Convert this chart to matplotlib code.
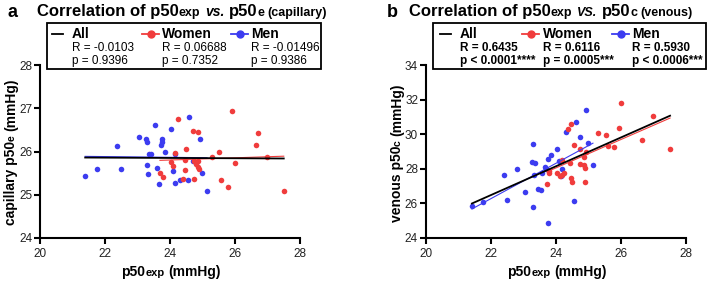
import numpy as np
import matplotlib
matplotlib.use('Agg')
import matplotlib.pyplot as plt
from matplotlib import transforms
from matplotlib.lines import Line2D
from matplotlib.patches import Rectangle

plt.rcParams['font.family'] = ['Liberation Sans', 'DejaVu Sans']

RED = '#f03c3c'
BLUE = '#3c3cf0'

# --- panel a: p50exp vs capillary p50e ---
a_men_x = [21.39, 21.74, 22.38, 22.48, 23.06, 23.26, 23.30, 23.28, 23.32, 23.34,
           23.42, 23.55, 23.59, 23.65, 23.71, 23.75, 23.75, 23.84, 24.03, 24.08,
           24.16, 24.16, 24.31, 24.55, 24.57, 24.71, 24.93, 24.97, 25.14]
a_men_y = [25.43, 25.59, 26.13, 25.60, 26.34, 26.28, 26.22, 25.69, 25.48, 25.94,
           25.94, 26.61, 25.63, 25.26, 26.14, 26.28, 26.22, 26.00, 26.51, 25.54,
           25.28, 25.95, 25.33, 25.34, 26.80, 25.78, 26.28, 25.51, 25.08]
a_women_x = [23.69, 23.77, 24.02, 24.08, 24.16, 24.24, 24.39, 24.45, 24.45, 24.49,
             24.71, 24.85, 24.73, 24.87, 24.80, 24.85, 24.90, 24.75, 25.28, 25.51,
             25.57, 25.77, 25.92, 25.99, 26.64, 26.72, 26.98, 27.50]
a_women_y = [25.50, 25.40, 25.76, 25.66, 25.96, 26.76, 25.37, 25.81, 25.57, 26.05,
             26.47, 26.45, 25.79, 25.77, 25.70, 25.65, 25.60, 25.37, 25.87, 25.99,
             25.34, 25.19, 26.94, 25.73, 26.16, 26.42, 25.88, 25.09]
a_stats = [("All", "R = -0.0103", "p = 0.9396"),
           ("Women", "R = 0.06688", "p = 0.7352"),
           ("Men", "R = -0.01496", "p = 0.9386")]

# --- panel b: p50exp vs venous p50c ---
b_men_x = [21.42, 21.77, 22.41, 22.51, 22.80, 23.06, 23.27, 23.29, 23.31, 23.35,
           23.33, 23.45, 23.54, 23.57, 23.66, 23.71, 23.77, 23.77, 23.85, 24.03,
           24.09, 24.16, 24.18, 24.32, 24.57, 24.63, 24.73, 24.93, 25.00, 25.14]
b_men_y = [25.87, 26.06, 27.63, 26.18, 27.98, 26.64, 28.40, 25.80, 29.43, 28.32,
           27.67, 26.83, 26.79, 27.75, 28.13, 28.01, 28.59, 24.88, 28.82, 29.13,
           28.44, 27.56, 28.00, 30.12, 26.14, 30.69, 29.85, 31.42, 29.47, 28.24]
b_women_x = [23.73, 23.79, 23.79, 24.03, 24.12, 24.18, 24.18, 24.26, 24.38, 24.44,
             24.46, 24.48, 24.50, 24.57, 24.73, 24.75, 24.85, 24.87, 24.89, 24.89,
             24.92, 25.30, 25.53, 25.59, 25.79, 25.93, 26.01, 26.65, 26.99, 27.51]
b_women_y = [27.10, 27.86, 27.78, 27.75, 27.60, 27.67, 28.51, 27.75, 30.31, 28.36,
             27.48, 30.58, 27.25, 29.39, 29.13, 28.28, 28.70, 28.24, 28.05, 27.21,
             28.97, 30.08, 29.93, 29.32, 29.28, 30.35, 31.80, 29.66, 31.03, 29.16]
b_stats = [("All", "R = 0.6435", "p < 0.0001****"),
           ("Women", "R = 0.6116", "p = 0.0005***"),
           ("Men", "R = 0.5930", "p < 0.0006***")]

W, H = 708, 281
fig = plt.figure(figsize=(W / 100, H / 100), dpi=100)
# pixel coords, origin top-left
PX = transforms.Affine2D().scale(1 / W, -1 / H).translate(0, 1) + fig.transFigure


def fit_line(ax, x, y, color, lw):
    k, b = np.polyfit(x, y, 1)
    xs = np.array([min(x), max(x)])
    ax.plot(xs, k * xs + b, color=color, lw=lw, zorder=3)


def make_axes(left, right, yticks):
    ax = fig.add_axes([left / W, 1 - 238 / H, (right - left) / W, 173 / H])
    ax.set_xlim(20, 28)
    ax.set_ylim(yticks[0], yticks[-1])
    ax.set_xticks([20, 22, 24, 26, 28])
    ax.set_yticks(yticks)
    for s in ['top', 'right']:
        ax.spines[s].set_visible(False)
    for s in ['left', 'bottom']:
        ax.spines[s].set_linewidth(1.5)
    ax.tick_params(length=4, width=1.5, labelsize=8.5, colors='black', labelcolor='#222222')
    ax.tick_params(axis='y', pad=1.5)
    ax.tick_params(axis='x', pad=3)
    ax.patch.set_alpha(0)
    return ax


def panel(ax, mx, my, wx, wy):
    ax.scatter(mx, my, s=16, color=BLUE, lw=0, zorder=2)
    ax.scatter(wx, wy, s=16, color=RED, lw=0, zorder=2)
    fit_line(ax, mx, my, BLUE, 0.8)
    fit_line(ax, wx, wy, RED, 0.8)
    fit_line(ax, mx + wx, my + wy, 'black', 1.3)


def rich(x, y, parts, ha='left', rot=0):
    # parts: (text, size, style); (' ', size) is a space of that size
    r = fig.canvas.get_renderer()
    items = []
    for part in parts:
        if part[0] == ' ':
            items.append((None, 0.278 * part[1] * 100 / 72))
            continue
        s, size, style = part
        t = fig.text(0, 0, s, fontsize=size, fontweight='bold', fontstyle=style,
                     transform=PX, ha='left', va='baseline', rotation=rot,
                     rotation_mode='anchor')
        bb = t.get_window_extent(r)
        items.append((t, bb.height if rot else bb.width))
    total = sum(w for _, w in items)
    start = x - total / 2 if ha == 'center' else x
    if rot:
        start = y + total / 2
    pos = start
    for t, w in items:
        if t is not None:
            t.set_position((x, pos) if rot else (pos, y))
        pos = pos - w if rot else pos + w


def legend_box(x0, x1, xs, stats, stat_weight):
    fig.add_artist(Rectangle((x0, 23), x1 - x0, 46, transform=PX, fill=False,
                             lw=1.3, ec='black'))
    hx, tx = xs[0]
    fig.add_artist(Line2D([hx, hx + 11], [34, 34], transform=PX, color='black', lw=1.3))
    for (hx, tx), col in zip(xs[1:], [RED, BLUE]):
        fig.add_artist(Line2D([hx, hx + 8.5, hx + 17], [34, 34, 34], transform=PX,
                              color=col, lw=1.3, marker='o', ms=5, markevery=[1]))
    for (hx, tx), (name, rs, ps) in zip(xs, stats):
        fig.text(tx, 34, name, transform=PX, fontsize=10, fontweight='bold', va='center')
        fig.text(tx, 48, rs, transform=PX, fontsize=8.5, fontweight=stat_weight, va='center')
        fig.text(tx, 61, ps, transform=PX, fontsize=8.5, fontweight=stat_weight, va='center')


ax_a = make_axes(40, 300, [24, 25, 26, 27, 28])
panel(ax_a, a_men_x, a_men_y, a_women_x, a_women_y)
ax_b = make_axes(425.7, 686, [24, 26, 28, 30, 32, 34])
panel(ax_b, b_men_x, b_men_y, b_women_x, b_women_y)

legend_box(47, 321, [(52, 72), (142, 162), (231, 251)], a_stats, 'normal')
legend_box(433, 706, [(440, 460), (522, 543), (612, 632)], b_stats, 'bold')

fig.text(8, 17, "a", transform=PX, fontsize=13, fontweight='bold')
fig.text(387, 17, "b", transform=PX, fontsize=13, fontweight='bold')

rich(37, 16, [("Correlation of p50", 12, 'normal'), ("exp", 9, 'normal'), (' ', 12),
              ("vs.", 10, 'italic'), (' ', 12), ("p50", 12, 'normal'), ("e", 9, 'normal'),
              (' ', 9), ("(capillary)", 9, 'normal')])
rich(409, 16, [("Correlation of p50", 12, 'normal'), ("exp", 9, 'normal'), (' ', 12),
               ("VS.", 9, 'italic'), (' ', 12), ("p50", 12, 'normal'), ("c", 9, 'normal'),
               (' ', 9), ("(venous)", 9, 'normal')])

rich(171, 276, [("p50", 10, 'normal'), ("exp", 8, 'normal'), (' ', 10), ("(mmHg)", 10, 'normal')],
     ha='center')
rich(557, 276, [("p50", 10, 'normal'), ("exp", 8, 'normal'), (' ', 10), ("(mmHg)", 10, 'normal')],
     ha='center')
rich(15, 152, [("capillary p50", 10, 'normal'), ("e", 7.5, 'normal'), (' ', 10),
               ("(mmHg)", 10, 'normal')], rot=90)
rich(401, 153, [("venous p50", 10, 'normal'), ("c", 7.5, 'normal'), (' ', 10),
                ("(mmHg)", 10, 'normal')], rot=90)

fig.savefig('out.png', dpi=100)
